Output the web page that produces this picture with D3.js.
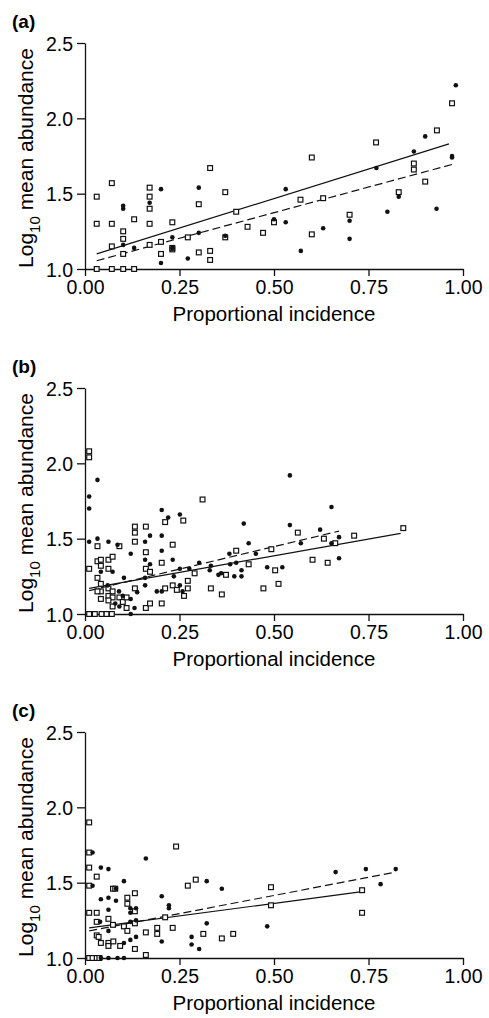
<!DOCTYPE html>
<html>
<head>
<meta charset="utf-8">
<script src="https://cdn.jsdelivr.net/npm/d3@7"></script>
<style>
  body { margin: 0; background: #fff; }
  svg { display: block; }
</style>
</head>
<body>
<div id="chart"></div>
<script>
// ---- data: [proportional incidence, log10 mean abundance] ----
var panelLabels = ["(a)", "(b)", "(c)"];
var xTicks = [0, 0.25, 0.5, 0.75, 1.0];
var yTicks = [1.0, 1.5, 2.0, 2.5];

var aSquares = [[0.031,1.48],[0.031,1.30],[0.031,1.0],[0.071,1.57],[0.071,1.30],[0.071,1.15],[0.071,1.0],
  [0.101,1.25],[0.101,1.20],[0.101,1.10],[0.101,1.0],[0.13,1.33],[0.13,1.0],[0.171,1.54],[0.171,1.48],
  [0.171,1.40],[0.171,1.30],[0.171,1.16],[0.201,1.18],[0.201,1.10],[0.231,1.31],[0.231,1.13],[0.231,1.14],
  [0.272,1.21],[0.301,1.43],[0.301,1.11],[0.331,1.67],[0.331,1.12],[0.331,1.06],[0.371,1.51],[0.371,1.21],
  [0.40,1.38],[0.43,1.28],[0.471,1.24],[0.50,1.31],[0.57,1.46],[0.60,1.74],[0.60,1.23],[0.63,1.47],
  [0.70,1.36],[0.77,1.84],[0.83,1.51],[0.87,1.70],[0.87,1.66],[0.90,1.58],[0.931,1.92],[0.971,2.10]];
var aDots = [[0.101,1.42],[0.101,1.40],[0.101,1.16],[0.13,1.14],[0.171,1.44],[0.201,1.53],[0.201,1.04],
  [0.231,1.21],[0.231,1.14],[0.272,1.07],[0.301,1.54],[0.301,1.24],[0.371,1.22],[0.50,1.33],[0.531,1.53],
  [0.531,1.31],[0.571,1.12],[0.63,1.27],[0.70,1.32],[0.70,1.20],[0.771,1.67],[0.80,1.38],[0.83,1.48],
  [0.87,1.78],[0.90,1.88],[0.93,1.40],[0.971,1.75],[0.971,1.74],[0.981,2.22]];
var aSolid = [[0.031,1.10],[0.963,1.83]];
var aDashed = [[0.031,1.055],[0.98,1.70]];

var bSquares = [[0.011,2.08],[0.011,2.04],[0.011,1.30],[0.011,1.0],[0.026,1.0],[0.044,1.0],[0.057,1.0],
  [0.071,1.0],[0.033,1.45],[0.033,1.35],[0.033,1.24],[0.042,1.36],[0.042,1.32],[0.042,1.20],[0.042,1.15],
  [0.033,1.15],[0.042,1.10],[0.062,1.30],[0.062,1.36],[0.073,1.38],[0.062,1.17],[0.073,1.15],[0.062,1.12],
  [0.073,1.11],[0.062,1.09],[0.073,1.05],[0.091,1.45],[0.091,1.11],[0.10,1.08],[0.11,1.04],[0.11,1.11],
  [0.132,1.58],[0.132,1.54],[0.132,1.48],[0.132,1.17],[0.161,1.58],[0.161,1.41],[0.161,1.30],[0.172,1.28],
  [0.161,1.04],[0.172,1.07],[0.203,1.34],[0.203,1.07],[0.212,1.61],[0.232,1.46],[0.212,1.17],[0.232,1.19],
  [0.243,1.16],[0.26,1.62],[0.262,1.12],[0.272,1.22],[0.272,1.17],[0.29,1.27],[0.311,1.76],[0.333,1.17],
  [0.362,1.13],[0.373,1.26],[0.40,1.42],[0.433,1.33],[0.493,1.43],[0.503,1.29],[0.472,1.17],[0.512,1.20],
  [0.563,1.54],[0.602,1.36],[0.632,1.50],[0.642,1.34],[0.662,1.47],[0.712,1.52],[0.842,1.57]];
var bDots = [[0.011,1.78],[0.011,1.70],[0.033,1.89],[0.011,1.48],[0.033,1.50],[0.062,1.48],[0.042,1.28],
  [0.073,1.28],[0.086,1.46],[0.121,1.40],[0.103,1.24],[0.138,1.145],[0.091,1.05],[0.121,1.0],[0.131,1.04],
  [0.159,1.48],[0.172,1.52],[0.159,1.36],[0.172,1.33],[0.203,1.69],[0.203,1.52],[0.203,1.42],[0.22,1.64],
  [0.251,1.66],[0.232,1.36],[0.235,1.25],[0.251,1.30],[0.251,1.19],[0.258,1.15],[0.302,1.34],[0.333,1.32],
  [0.353,1.26],[0.382,1.40],[0.384,1.33],[0.42,1.60],[0.433,1.47],[0.452,1.40],[0.414,1.29],[0.414,1.25],
  [0.395,1.25],[0.482,1.31],[0.522,1.31],[0.542,1.92],[0.542,1.59],[0.571,1.47],[0.622,1.56],[0.652,1.71],
  [0.652,1.47],[0.672,1.51],[0.672,1.37],[0.121,1.10],[0.159,1.24],[0.159,1.19],[0.19,1.15],[0.203,1.15],
  [0.09,1.15],[0.10,1.12],[0.06,1.19],[0.08,1.07],[0.276,1.30],[0.33,1.29],[0.36,1.27],[0.40,1.34]];
var bSolid = [[0.011,1.17],[0.835,1.535]];
var bDashed = [[0.011,1.155],[0.672,1.55]];

var cSquares = [[0.011,1.90],[0.011,1.70],[0.011,1.60],[0.011,1.48],[0.011,1.30],[0.011,1.0],[0.02,1.0],
  [0.031,1.0],[0.038,1.0],[0.031,1.30],[0.031,1.24],[0.031,1.54],[0.031,1.15],[0.036,1.14],[0.042,1.10],
  [0.062,1.26],[0.062,1.10],[0.062,1.08],[0.075,1.11],[0.074,1.46],[0.08,1.46],[0.074,1.22],[0.093,1.08],
  [0.103,1.21],[0.112,1.40],[0.112,1.36],[0.112,1.18],[0.132,1.43],[0.132,1.31],[0.132,1.23],[0.132,1.06],
  [0.161,1.17],[0.161,1.02],[0.191,1.20],[0.191,1.16],[0.212,1.27],[0.232,1.20],[0.241,1.74],[0.272,1.48],
  [0.293,1.52],[0.313,1.16],[0.362,1.13],[0.392,1.16],[0.492,1.47],[0.492,1.35],[0.733,1.45],[0.733,1.30]];
var cDots = [[0.02,1.70],[0.02,1.48],[0.042,1.0],[0.062,1.0],[0.086,1.0],[0.103,1.0],[0.042,1.60],
  [0.062,1.59],[0.042,1.39],[0.062,1.40],[0.082,1.38],[0.062,1.32],[0.04,1.24],[0.062,1.18],[0.082,1.46],
  [0.103,1.51],[0.12,1.33],[0.12,1.30],[0.12,1.24],[0.12,1.12],[0.103,1.10],[0.135,1.33],[0.135,1.14],
  [0.135,1.25],[0.161,1.66],[0.203,1.41],[0.203,1.11],[0.222,1.35],[0.222,1.33],[0.282,1.14],[0.282,1.09],
  [0.302,1.06],[0.322,1.23],[0.322,1.51],[0.362,1.46],[0.482,1.21],[0.663,1.57],[0.743,1.59],[0.782,1.49],
  [0.822,1.59]];
var cSolid = [[0.011,1.20],[0.733,1.44]];
var cDashed = [[0.011,1.18],[0.822,1.57]];

var panels = [
  { label: panelLabels[0], squares: aSquares, dots: aDots, solid: aSolid, dashed: aDashed, top: 43 },
  { label: panelLabels[1], squares: bSquares, dots: bDots, solid: bSolid, dashed: bDashed, top: 388 },
  { label: panelLabels[2], squares: cSquares, dots: cDots, solid: cSolid, dashed: cDashed, top: 732 }
];

// ---- layout ----
var W = 489, H = 1018;
var left = 85, plotW = 378, plotH = 226;
var font = "'Liberation Sans', Arial, Helvetica, sans-serif";
var ink = "#111";

var svg = d3.select("#chart").append("svg")
  .attr("width", W)
  .attr("height", H)
  .style("font-family", font);

var x = d3.scaleLinear().domain([0, 1]).range([0, plotW]);
var y = d3.scaleLinear().domain([1, 2.5]).range([plotH, 0]);

var line = d3.line().x(d => x(d[0])).y(d => y(d[1]));

panels.forEach(function(p) {
  var g = svg.append("g").attr("transform", "translate(" + left + "," + p.top + ")");

  // axes
  var xAxis = g.append("g")
    .attr("transform", "translate(0," + plotH + ")")
    .call(d3.axisBottom(x).tickValues(xTicks).tickFormat(d3.format(".2f")).tickSize(7).tickSizeOuter(0).tickPadding(4));
  var yAxis = g.append("g")
    .call(d3.axisLeft(y).tickValues(yTicks).tickFormat(d3.format(".1f")).tickSize(8).tickSizeOuter(0).tickPadding(4));

  [xAxis, yAxis].forEach(function(ax) {
    ax.select(".domain").attr("stroke", ink).attr("stroke-width", 1.3);
    ax.selectAll(".tick line").attr("stroke", ink).attr("stroke-width", 1.3);
    ax.selectAll(".tick text").attr("fill", "#000").attr("font-size", 19.5).attr("font-family", font);
  });
  yAxis.selectAll(".tick text").attr("dy", "0.36em");

  // fitted lines
  g.append("path").datum(p.solid).attr("d", line)
    .attr("fill", "none").attr("stroke", ink).attr("stroke-width", 1.2);
  g.append("path").datum(p.dashed).attr("d", line)
    .attr("fill", "none").attr("stroke", ink).attr("stroke-width", 1.2)
    .attr("stroke-dasharray", "8,4");

  // points
  var s = 4.8;
  g.selectAll("rect.sq").data(p.squares).enter().append("rect")
    .attr("class", "sq")
    .attr("x", d => x(d[0]) - s / 2)
    .attr("y", d => y(d[1]) - s / 2)
    .attr("width", s).attr("height", s)
    .attr("fill", "#fff").attr("stroke", ink).attr("stroke-width", 1.2);
  g.selectAll("circle.dot").data(p.dots).enter().append("circle")
    .attr("class", "dot")
    .attr("cx", d => x(d[0]))
    .attr("cy", d => y(d[1]))
    .attr("r", 2.3)
    .attr("fill", ink);

  // panel label
  g.append("text")
    .attr("x", 12 - left).attr("y", -15)
    .attr("font-size", 19).attr("font-weight", "bold")
    .text(p.label);

  // x title
  g.append("text")
    .attr("x", plotW / 2).attr("y", plotH + 52)
    .attr("text-anchor", "middle").attr("font-size", 20.5)
    .text("Proportional incidence");

  // y title
  var yt = g.append("text")
    .attr("transform", "translate(" + (33 - left) + "," + (plotH / 2 + 2) + ") rotate(-90)")
    .attr("text-anchor", "middle").attr("font-size", 21);
  yt.append("tspan").text("Log");
  yt.append("tspan").attr("font-size", 15).attr("dy", "0.45em").text("10");
  yt.append("tspan").attr("dy", "-0.3em").text(" mean abundance");
});
</script>
</body>
</html>
